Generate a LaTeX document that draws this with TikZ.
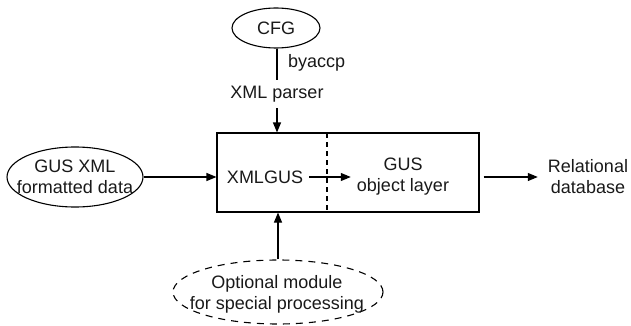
\documentclass[tikz,border=0pt]{standalone}
\usepackage{fontspec}
\setmainfont{Liberation Sans}
\usetikzlibrary{shapes.geometric,arrows.meta}
\begin{document}
\begin{tikzpicture}[x=1pt,y=-1pt,
  every node/.style={font=\fontsize{18}{21}\selectfont, align=center, text=black!90},
  arr/.style={line width=1.1pt, -{Triangle[length=10pt,width=8pt]}},
  ln/.style={line width=1.1pt},
  oval/.style={ellipse, draw, line width=1.1pt, inner sep=0pt},
  inlabel/.style={inner sep=0pt},
  txt/.style={inner sep=6pt}]
\useasboundingbox (0,0) rectangle (631,326);
\node[oval, minimum width=88, minimum height=40] (cfg) at (276,28) {};
\node[inlabel] (cfgt) at (cfg.center) {CFG};
\node[anchor=west, inner sep=0pt] (byaccp) at (288,63) {byaccp};
\node[inner sep=0pt, minimum height=28] (xmlp) at (277,94) {XML parser};
\node[draw, line width=1.1pt, minimum width=262, minimum height=79, inner sep=0pt] (box) at (348,172.5) {};
\coordinate (dtop) at (327,133);
\coordinate (dbot) at (327,212);
\draw[ln, dash pattern=on 5pt off 4pt] (dtop) -- (dbot);
\node[txt] (xmlgus) at (265,177) {XMLGUS};
\node[txt] (gusobj) at (403,177) {GUS\\object layer};
\node[inner sep=10pt] (rel) at (588,177) {Relational\\database};
\node[oval, minimum width=136, minimum height=60] (gusxml) at (75,177) {};
\node[inlabel] (gusxmlt) at (gusxml.center) {GUS XML\\formatted data};
\node[oval, dashed, dash pattern=on 7pt off 6pt, minimum width=210, minimum height=64] (opt) at (278,292) {};
\node[inlabel] (optt) at (277,294) {Optional module\\for special processing};
\draw[ln] (cfg.south -| xmlp) -- (xmlp.north);
\draw[arr] (xmlp.south) -- (xmlp.south |- box.north);
\draw[arr] (gusxml.east) -- (gusxml.east -| box.west);
\draw[arr] (xmlgus.east) -- (xmlgus.east -| gusobj.west);
\draw[arr, shorten <=4pt] (box.east |- rel.west) -- (rel.west);
\draw[arr] (opt.north) -- (opt.north |- box.south);
\end{tikzpicture}
\end{document}
